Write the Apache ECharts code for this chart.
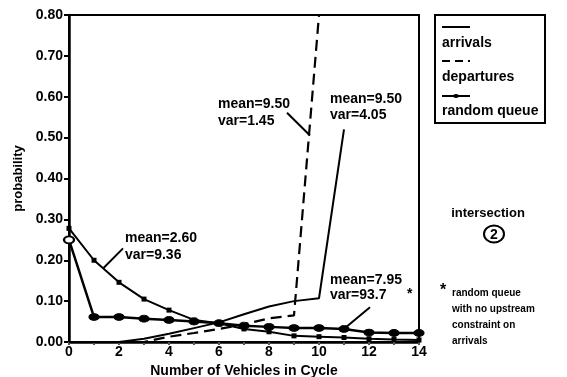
<!DOCTYPE html>
<html>
<head>
<meta charset="utf-8">
<script src="https://cdn.jsdelivr.net/npm/echarts@6/dist/echarts.min.js"></script>
<style>html,body{margin:0;padding:0;background:#fff}#c{width:567px;height:377px}</style>
</head>
<body>
<div id="c"></div>
<script>
// ---- data ----
const vehicles = [0,1,2,3,4,5,6,7,8,9,10,11,12,13,14];
const arrivals = [0,0,0,0.008,0.02,0.034,0.048,0.068,0.087,0.100,0.107,0.52];
const departures = [0,0,0,0,0.013,0.022,0.032,0.043,0.058,0.065,0.80];
const randomQueue = [0.278,0.200,0.146,0.105,0.078,0.054,0.046,0.032,0.025,0.015,0.013,0.011,0.008,0.006,0.005];
const randomQueueFree = [0.25,0.061,0.061,0.057,0.054,0.050,0.046,0.040,0.037,0.034,0.034,0.032,0.023,0.022,0.022];
const yTicks = [0,0.1,0.2,0.3,0.4,0.5,0.6,0.7,0.8];
const xTickLabels = [0,2,4,6,8,10,12,14];
// annotation texts (anchored in data coordinates)
const annoTexts = [
  ['mean=2.60', 2.24, 0.254], ['var=9.36', 2.24, 0.212],
  ['mean=9.50', 5.96, 0.583], ['var=1.45', 5.96, 0.541],
  ['mean=9.50', 10.44, 0.595], ['var=4.05', 10.44, 0.556],
  ['mean=7.95', 10.44, 0.151], ['var=93.7', 10.44, 0.115], ['*', 13.52, 0.118]
];
const annoLeaders = [
  [[2.16, 0.229], [1.36, 0.180]],
  [[8.72, 0.561], [9.64, 0.505]],
  [[12.04, 0.085], [11.04, 0.034]]
];

const FONT = '"Liberation Sans", Arial, sans-serif';
const pairs = arr => arr.map((v, i) => [vehicles[i], v]);

const chart = echarts.init(document.getElementById('c'), null, {renderer: 'canvas'});
chart.setOption({
  animation: false,
  backgroundColor: '#fff',
  grid: {left: 69, right: 148, top: 15, bottom: 35, show: true, borderColor: '#000', borderWidth: 2,
    containLabel: false, outerBoundsMode: 'none'},
  xAxis: {
    type: 'value', min: 0, max: 14, interval: 1,
    name: 'Number of Vehicles in Cycle', nameLocation: 'middle', nameGap: 22,
    nameTextStyle: {color: '#000', fontFamily: FONT, fontWeight: 'bold', fontSize: 14},
    axisLine: {show: true, lineStyle: {color: '#000', width: 2.5}},
    axisTick: {show: true, length: 3, lineStyle: {color: '#555', width: 2}},
    splitLine: {show: false},
    axisLabel: {color: '#000', fontFamily: FONT, fontWeight: 'bold', fontSize: 14, margin: 3,
      formatter: v => xTickLabels.indexOf(v) >= 0 ? String(v) : ''}
  },
  yAxis: {
    type: 'value', min: 0, max: 0.8, interval: 0.1,
    name: 'probability', nameLocation: 'middle', nameGap: 35,
    nameTextStyle: {color: '#000', fontFamily: FONT, fontWeight: 'bold', fontSize: 13},
    axisLine: {show: true, lineStyle: {color: '#000', width: 2.5}},
    axisTick: {show: true, length: 5, lineStyle: {color: '#000', width: 2}},
    splitLine: {show: false},
    axisLabel: {color: '#000', fontFamily: FONT, fontWeight: 'bold', fontSize: 14, margin: 6,
      formatter: v => v.toFixed(2)}
  },
  series: [
    {name: 'arrivals', type: 'line', data: pairs(arrivals), showSymbol: false, symbol: 'none',
      lineStyle: {color: '#000', width: 2}, z: 3},
    {name: 'departures', type: 'line', data: pairs(departures), showSymbol: false, symbol: 'none',
      lineStyle: {color: '#000', width: 2.2, type: [11, 6]}, z: 3},
    {name: 'random queue', type: 'line', data: pairs(randomQueue), symbol: 'rect', symbolSize: 5,
      itemStyle: {color: '#000'}, lineStyle: {color: '#000', width: 2}, z: 4},
    {name: 'random queue *', type: 'line', data: pairs(randomQueueFree).map((p, i) => i === 0 ?
        {value: p, itemStyle: {color: '#fff', borderColor: '#000', borderWidth: 2}} : p),
      symbol: 'circle', symbolSize: [10, 7],
      itemStyle: {color: '#000', borderColor: '#000', borderWidth: 1}, lineStyle: {color: '#000', width: 2.5}, z: 5}
  ]
});

// annotations positioned through the chart's own scales
const g = [];
annoTexts.forEach(([t, x, y]) => {
  const p = chart.convertToPixel({gridIndex: 0}, [x, y]);
  g.push({type: 'text', x: p[0], y: p[1], z: 50,
    style: {text: t, fill: '#000', font: 'bold 14px ' + FONT, textVerticalAlign: 'middle', textAlign: 'left',
      backgroundColor: t === '*' ? 'transparent' : '#fff'}});
});
annoLeaders.forEach(([a, b]) => {
  const p1 = chart.convertToPixel({gridIndex: 0}, a);
  const p2 = chart.convertToPixel({gridIndex: 0}, b);
  g.push({type: 'line', z: 49, shape: {x1: p1[0], y1: p1[1], x2: p2[0], y2: p2[1]},
    style: {stroke: '#000', lineWidth: 2}});
});
// legend box
g.push({type: 'rect', shape: {x: 435, y: 15, width: 110, height: 108}, style: {fill: '#fff', stroke: '#000', lineWidth: 2}, z: 60});
g.push({type: 'line', shape: {x1: 442, y1: 27, x2: 470, y2: 27}, style: {stroke: '#000', lineWidth: 2}, z: 61});
g.push({type: 'text', x: 442, y: 43, style: {text: 'arrivals', font: 'bold 14px ' + FONT, fill: '#000', textVerticalAlign: 'middle'}, z: 61});
g.push({type: 'line', shape: {x1: 442, y1: 61, x2: 470, y2: 61}, style: {stroke: '#000', lineWidth: 2, lineDash: [8, 5]}, z: 61});
g.push({type: 'text', x: 442, y: 77, style: {text: 'departures', font: 'bold 14px ' + FONT, fill: '#000', textVerticalAlign: 'middle'}, z: 61});
g.push({type: 'line', shape: {x1: 442, y1: 96, x2: 470, y2: 96}, style: {stroke: '#000', lineWidth: 2}, z: 61});
g.push({type: 'ellipse', shape: {cx: 456, cy: 96, rx: 3, ry: 2}, style: {fill: '#000'}, z: 62});
g.push({type: 'text', x: 442, y: 111, style: {text: 'random queue', font: 'bold 14px ' + FONT, fill: '#000', textVerticalAlign: 'middle'}, z: 61});
// side notes
g.push({type: 'text', x: 488, y: 213, style: {text: 'intersection', font: 'bold 13px ' + FONT, fill: '#000', textAlign: 'center', textVerticalAlign: 'middle'}});
g.push({type: 'ellipse', shape: {cx: 494, cy: 234, rx: 10, ry: 8.5}, style: {fill: 'none', stroke: '#000', lineWidth: 2}});
g.push({type: 'text', x: 494, y: 235, style: {text: '2', font: 'bold 14px ' + FONT, fill: '#000', textAlign: 'center', textVerticalAlign: 'middle'}});
g.push({type: 'text', x: 443, y: 291, style: {text: '*', font: 'bold 16px ' + FONT, fill: '#000', textAlign: 'center', textVerticalAlign: 'middle'}});
['random queue', 'with no upstream', 'constraint on', 'arrivals'].forEach((t, i) => {
  g.push({type: 'text', x: 452, y: 293 + i * 16, style: {text: t, font: 'bold 10px ' + FONT, fill: '#000', textVerticalAlign: 'middle'}});
});
chart.setOption({graphic: g});
</script>
</body>
</html>
